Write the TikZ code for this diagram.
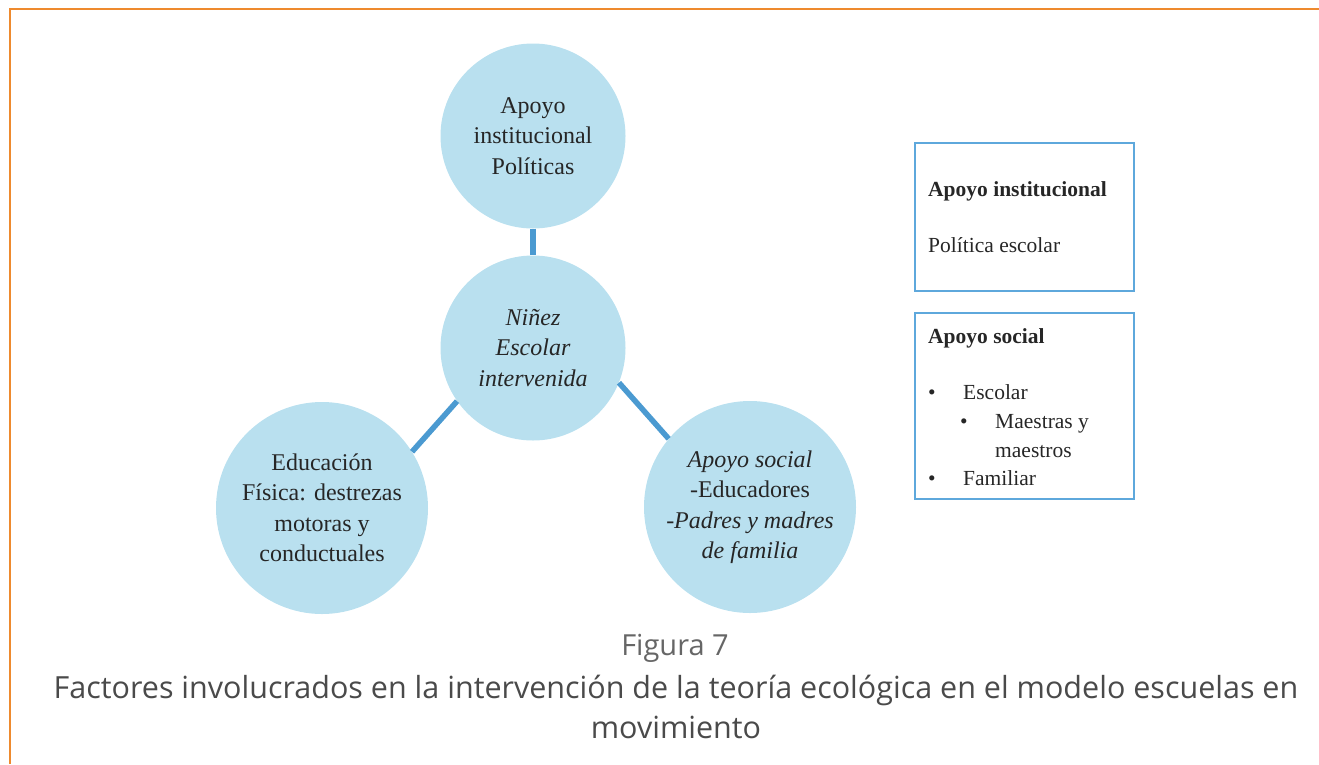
\documentclass[tikz,border=0pt]{standalone}
\usepackage{fontspec}
\setmainfont{Liberation Serif}
\newfontfamily\captionfont{Open Sans}
\usepackage{xcolor}
\definecolor{circlefill}{HTML}{B9E0EF}
\definecolor{linkblue}{HTML}{4B9AD1}
\definecolor{boxblue}{HTML}{5EA8DC}
\definecolor{frameorange}{HTML}{EE8A2E}
\definecolor{captiongray}{HTML}{4A4A4A}
\definecolor{figgray}{HTML}{666666}

\begin{document}
\begin{tikzpicture}[
    x=1pt, y=-1pt,
    factor/.style={circle, fill=circlefill, inner sep=0pt, align=center,
        font=\fontsize{24}{30.5}\selectfont, text=black!85},
    small/.style={factor, minimum size=185pt},
    large/.style={factor, minimum size=212pt},
    link/.style={draw=linkblue, line width=5.5pt},
    infobox/.style={draw=boxblue, line width=1.6pt, minimum width=219pt, anchor=north west},
    boxtext/.style={anchor=base west, inner sep=0pt, font=\fontsize{21.5}{24}\selectfont, text=black!85},
    caption/.style={font=\captionfont\fontsize{30.5}{40}\selectfont, align=center}
]
    \useasboundingbox (0,0) rectangle (1319,764);

    % Frame
    \draw[frameorange, line width=2.5pt] (10,764) -- (10,9) -- (1319,9);

    % Circles
    \node[small] (top) at (533,136) {Apoyo\\institucional\\Políticas};
    \node[small] (mid) at (533,348) {\itshape Niñez\\\itshape Escolar\\\itshape intervenida};
    \node[large] (left) at (322,508) {Educación\\Física: destrezas\\motoras y\\conductuales};
    \node[large] (right) at (750,507) {\itshape Apoyo social\\-Educadores\\\itshape -Padres y madres\\\itshape de familia};

    % Connections
    \draw[link] (top) -- (mid);
    \draw[link] (mid.215) -- (left.32);
    \draw[link] (mid.338) -- (right.140);

    % Boxes
    \node[infobox, minimum height=148pt] (inst) at (914,142) {};
    \node[infobox, minimum height=186pt] (soc) at (914,312) {};

    \node[boxtext] (insttitle) at (928,196) {\bfseries Apoyo institucional};
    \node[boxtext] (instpol) at (928,252) {Política escolar};

    \node[boxtext] (soctitle) at (928,343) {\bfseries Apoyo social};
    \node[boxtext] (b1) at (928,399) {\textbullet};
    \node[boxtext] (esc) at (963,399) {Escolar};
    \node[boxtext] (b2) at (960,428) {\textbullet};
    \node[boxtext] (mae) at (995,428) {Maestras y};
    \node[boxtext] (mae2) at (995,457) {maestros};
    \node[boxtext] (b3) at (928,485) {\textbullet};
    \node[boxtext] (fam) at (963,485) {Familiar};

    % Caption
    \node[caption, text=figgray, font=\captionfont\fontsize{29}{40}\selectfont, anchor=base] (fig) at (675,655) {Figura 7};
    \node[caption, text=captiongray, anchor=base] (cap) at (676,738)
        {Factores involucrados en la intervención de la teoría ecológica en el modelo escuelas en\\movimiento};
\end{tikzpicture}
\end{document}
